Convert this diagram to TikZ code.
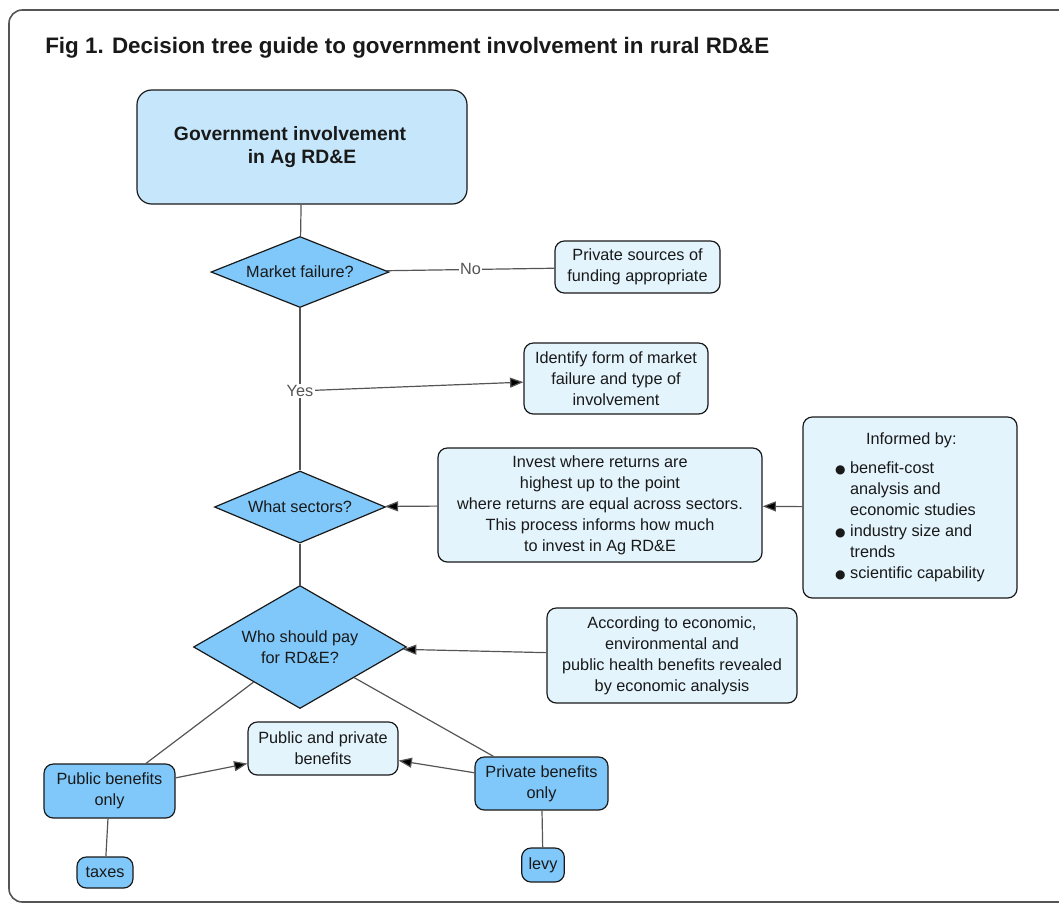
\documentclass[tikz,border=0pt]{standalone}
\usepackage{fontspec}
\setmainfont{Liberation Sans}
\newfontfamily\dotfont{DejaVu Sans}
\usetikzlibrary{arrows.meta,shapes.geometric,positioning}

\definecolor{qblue}{RGB}{128,200,250}
\definecolor{gblue}{RGB}{198,231,251}
\definecolor{pblue}{RGB}{228,244,253}
\definecolor{edge}{RGB}{85,85,85}
\definecolor{ink}{RGB}{25,25,25}

\newcommand{\itemdot}{{\dotfont\fontsize{9}{9}\selectfont ●}\ }
\newcommand{\itemgap}{\hphantom{\itemdot}}

\tikzset{
  box/.style={draw=ink,line width=0.9pt,rounded corners=7pt,align=center,
    text=ink,font=\fontsize{12.2}{15.75}\selectfont,inner sep=2pt},
  decision/.style={diamond,draw=ink,line width=0.9pt,fill=qblue,align=center,
    text=ink,inner sep=0pt,font=\fontsize{12.2}{15.75}\selectfont},
  paybox/.style={box,fill=qblue},
  notebox/.style={box,fill=pblue},
  branch/.style={draw=edge,line width=0.9pt},
  lbl/.style={fill=white,text=edge,inner sep=1pt,font=\fontsize{12.2}{14}\selectfont}
}

\begin{document}
\begin{tikzpicture}[x=0.75pt,y=-0.75pt,>={Triangle[length=10pt,width=7.5pt]}]
    \useasboundingbox (0,0) rectangle (1059,904);
    \draw[edge,line width=1.2pt,rounded corners=10pt] (9,10) rectangle (1080,902);

    \node[anchor=base west,inner sep=0pt,text=ink,font=\fontsize{16.8}{20}\selectfont\bfseries] (title) at (45,53)
        {Fig 1. Decision tree guide to government involvement in rural RD\&E};

    % main spine
    \node[box,fill=gblue,rounded corners=11pt,minimum width=247.5pt,minimum height=85.5pt,
          font=\fontsize{14.5}{17.5}\selectfont\bfseries] (gov) at (302,147)
        {Government involvement\hspace*{18pt}\\in Ag RD\&E};
    \node[decision,minimum width=133.5pt,minimum height=53.25pt,shape aspect=2.5] (mf) at (300,272) {Market failure?};
    \node[decision,minimum width=128.25pt,minimum height=54pt,shape aspect=2.4] (ws) at (300,507) {What sectors?};
    \node[decision,minimum width=159.75pt,minimum height=92.25pt,shape aspect=1.73] (who) at (300,647)
        {Who should pay\\for RD\&E?};

    % side notes
    \node[notebox,minimum width=123.75pt,minimum height=39pt] (fund) at (637.5,267)
        {Private sources of\\funding appropriate};
    \node[notebox,minimum width=138pt,minimum height=53.25pt] (ident) at (616,378.5)
        {Identify form of market\\failure and type of\\involvement};
    \node[notebox,minimum width=243pt,minimum height=85.5pt] (invest) at (600,505)
        {Invest where returns are\\highest up to the point\\where returns are equal across sectors.\\This process informs how much\\to invest in Ag RD\&E};
    \node[notebox,minimum width=160.5pt,minimum height=135.75pt,align=left] (inform) at (910,507.5)
        {\itemgap\hspace{12pt}Informed by:\\[6pt]
         \itemdot benefit-cost\\
         \itemgap analysis and\\
         \itemgap economic studies\\
         \itemdot industry size and\\
         \itemgap trends\\
         \itemdot scientific capability};
    \node[notebox,minimum width=187.5pt,minimum height=71.25pt] (acc) at (672,655.5)
        {According to economic,\\environmental and\\public health benefits revealed\\by economic analysis};

    % who pays
    \node[notebox,minimum width=112.5pt,minimum height=39.75pt] (both) at (323,748.5)
        {Public and private\\benefits};
    \node[paybox,minimum width=98.25pt,minimum height=40.5pt] (pub) at (109.5,791)
        {Public benefits\\only};
    \node[paybox,minimum width=99.75pt,minimum height=39.75pt] (priv) at (541.5,783.5)
        {Private benefits\\only};
    \node[paybox,minimum width=42pt,minimum height=23.25pt] (taxes) at (105,872.5) {taxes};
    \node[paybox,minimum width=32pt,minimum height=25.5pt] (levy) at (543,865) {levy};

    \path[branch] (gov) edge (mf)
                  (mf) edge node[lbl] (no) {No} (fund)
                  (mf) edge node[lbl,pos=0.51] (yes) {Yes} (ws)
                  (ws) edge (who)
                  (who) edge (pub)
                       edge (priv)
                  (pub) edge (taxes)
                  (priv) edge (levy);

    \path[branch,->] (yes) edge (ident)
                     (invest) edge (ws)
                     (inform) edge (invest)
                     (acc) edge (who)
                     (pub) edge (both)
                     (priv) edge (both);

  \end{tikzpicture}
\end{document}
